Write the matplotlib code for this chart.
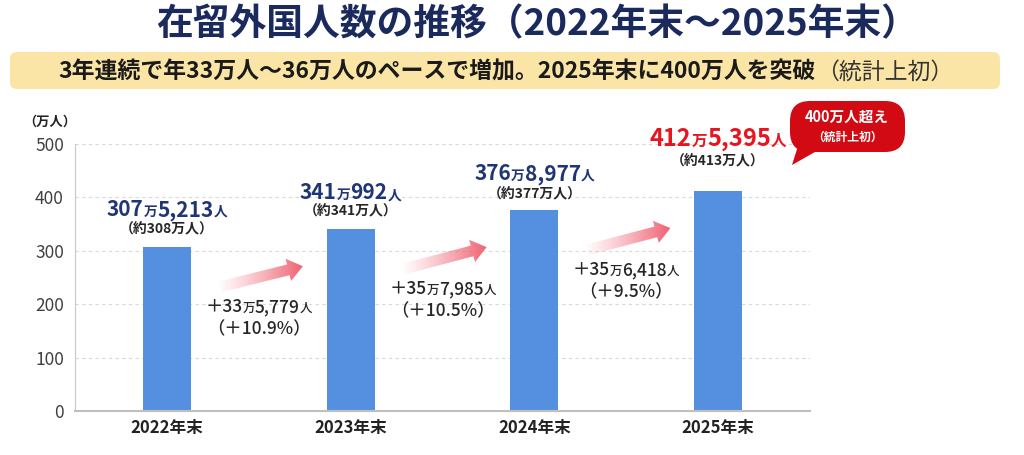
import numpy as np
import matplotlib
matplotlib.use('Agg')
import matplotlib.pyplot as plt
from matplotlib.offsetbox import TextArea, HPacker, AnnotationBbox
from matplotlib.patches import FancyBboxPatch, Polygon

plt.rcParams['font.family'] = ['Noto Sans CJK JP', 'DejaVu Sans']

# data: foreign residents at year end (persons)
years = ['2022年末', '2023年末', '2024年末', '2025年末']
counts = [3075213, 3410992, 3768977, 4125395]
values = [c / 10000 for c in counts]   # 万人

W, H = 1024, 455
NAVY = '#1b2a5c'
LBL = '#1f3575'
RED = '#e8141e'
BLUE = '#5590e0'

fig = plt.figure(figsize=(W / 100, H / 100), dpi=100)
ax = fig.add_axes([75 / W, 1 - 411 / H, (810 - 75) / W, 267 / H])

x = np.arange(len(years))
ax.bar(x, values, width=0.26, color=BLUE, zorder=2)
ax.set_xlim(-0.5, 3.5)
ax.set_ylim(0, 500)
ax.set_yticks(range(0, 501, 100))
ax.set_xticks(x)
ax.set_xticklabels(years, fontsize=12, fontweight='bold', color='#222222')
ax.tick_params(axis='y', length=0, pad=8, labelsize=12.5, labelcolor='#404040')
ax.tick_params(axis='x', length=0, pad=6)
ax.grid(axis='y', linestyle=(0, (3, 3)), color='#d9d9d9', lw=0.8, zorder=0)
for s in ['top', 'right']:
    ax.spines[s].set_visible(False)
ax.spines['left'].set_color('#c8c8c8')
ax.spines['bottom'].set_color('#bfbfbf')
ax.spines['bottom'].set_linewidth(1.5)
ax.spines['bottom'].set_zorder(3)


def mixed(parts, xy, off_px=0, coords='data', align=(0.5, 0.5)):
    kids = [TextArea(t, textprops=dict(fontsize=fs, color=c, fontweight=w))
            for t, fs, c, w in parts]
    box = HPacker(children=kids, align='baseline', pad=0, sep=0)
    ab = AnnotationBbox(box, xy, xybox=(0, off_px * 0.72), xycoords=coords,
                        boxcoords='offset points', frameon=False,
                        box_alignment=align, pad=0, annotation_clip=False)
    ax.add_artist(ab)
    ab.set_clip_on(False)
    return ab


# value labels above bars
big_off = [37, 36, 36, 52]
sub_off = [17, 17, 15, 29]
for i, c in enumerate(counts):
    man, rest = c // 10000, c % 10000
    col = RED if i == 3 else LBL
    fs = 17 if i == 3 else 15
    mixed([(str(man), fs, col, 'bold'), ('万', fs * 0.66, col, 'bold'),
           (f'{rest:,}', fs, col, 'bold'), ('人', fs * 0.66, col, 'bold')],
          (x[i], values[i]), big_off[i])
    ax.annotate(f'（約{round(c / 10000)}万人）', (x[i], values[i]),
                xytext=(0, sub_off[i] * 0.72), textcoords='offset points',
                ha='center', va='center', fontsize=10, fontweight='bold',
                color='#262626', annotation_clip=False)


def grad_arrow(x0, y0, x1, y1):
    p0 = ax.transData.transform((x0, y0))
    p1 = ax.transData.transform((x1, y1))
    d = p1 - p0
    L = np.hypot(*d)
    u = d / L
    n = np.array([-u[1], u[0]])
    sw, hw, hl = 5.5, 11.5, 15
    b = p0 + u * (L - hl)
    pts = np.array([p0 + n * sw, b + n * sw, b + n * hw, p1,
                    b - n * hw, b - n * sw, p0 - n * sw])
    dpts = ax.transData.inverted().transform(pts)
    poly = Polygon(dpts, closed=True, facecolor='none', edgecolor='none',
                   transform=ax.transData)
    ax.add_patch(poly)
    N = 200
    img = np.zeros((1, N, 4))
    img[..., 0], img[..., 1], img[..., 2] = 0.94, 0.38, 0.44
    img[..., 3] = np.linspace(0.04, 1.0, N) ** 1.2
    im = ax.imshow(img, extent=(dpts[:, 0].min(), dpts[:, 0].max(),
                                dpts[:, 1].min(), dpts[:, 1].max()),
                   aspect='auto', zorder=3, interpolation='bilinear')
    im.set_clip_path(poly)


for i in range(len(counts) - 1):
    y0 = values[i] - 75
    y1 = values[i + 1] - 70
    grad_arrow(x[i] + 0.29, y0, x[i] + 0.74, y1)
    diff = counts[i + 1] - counts[i]
    pct = diff / counts[i] * 100
    mixed([('＋' + str(diff // 10000), 12.5, '#262626', 'medium'),
           ('万', 9, '#262626', 'medium'),
           (f'{diff % 10000:,}', 12.5, '#262626', 'medium'),
           ('人', 9, '#262626', 'medium')],
          (x[i] + 0.5, y0 - 38))
    ax.text(x[i] + 0.5, y0 - 79, f'（＋{pct:.1f}%）', ha='center', va='center',
            fontsize=12.5, fontweight='medium', color='#262626')

ax.set_xlim(-0.5, 3.5)
ax.set_ylim(0, 500)

# unit label
fig.text(50 / W, 1 - 122 / H, '（万人）', ha='center', va='center',
         fontsize=9.5, fontweight='bold', color='#222222')

# title
fig.text(537 / W, 1 - 25 / H, '在留外国人数の推移（2022年末～2025年末）',
         ha='center', va='center', fontsize=26.5, fontweight='bold', color=NAVY)

# subtitle box
tr = fig.dpi_scale_trans
fig.patches.append(FancyBboxPatch((0.10, (H - 89) / 100), 9.9, 0.37,
                                  boxstyle='round,pad=0,rounding_size=0.07',
                                  facecolor='#fbe5a6', edgecolor='none',
                                  transform=tr, figure=fig))
sub = HPacker(children=[
    TextArea('3年連続で年33万人～36万人のペースで増加。2025年末に400万人を突破',
             textprops=dict(fontsize=16.5, fontweight='bold', color='#1a1a1a')),
    TextArea('（統計上初）', textprops=dict(fontsize=16.5, color='#333333'))],
    align='baseline', pad=0, sep=0)
fig.add_artist(AnnotationBbox(sub, (506, H - 72), xycoords='figure pixels',
                              frameon=False, box_alignment=(0.5, 0.5), pad=0))

# red speech bubble
fig.patches.append(FancyBboxPatch((7.90, (H - 152) / 100), 1.15, 0.51,
                                  boxstyle='round,pad=0,rounding_size=0.2',
                                  facecolor='#d20a14', edgecolor='none',
                                  transform=tr, figure=fig))
fig.patches.append(Polygon([(7.98, (H - 146) / 100), (8.22, (H - 148) / 100),
                            (7.92, (H - 165) / 100)], closed=True,
                           facecolor='#d20a14', edgecolor='none',
                           transform=tr, figure=fig))
fig.text(847 / W, 1 - 117 / H, '400万人超え', ha='center', va='center',
         fontsize=10.5, fontweight='bold', color='white')
fig.text(847 / W, 1 - 137 / H, '（統計上初）', ha='center', va='center',
         fontsize=8.5, fontweight='bold', color='white')

fig.savefig('out.png', dpi=100)
